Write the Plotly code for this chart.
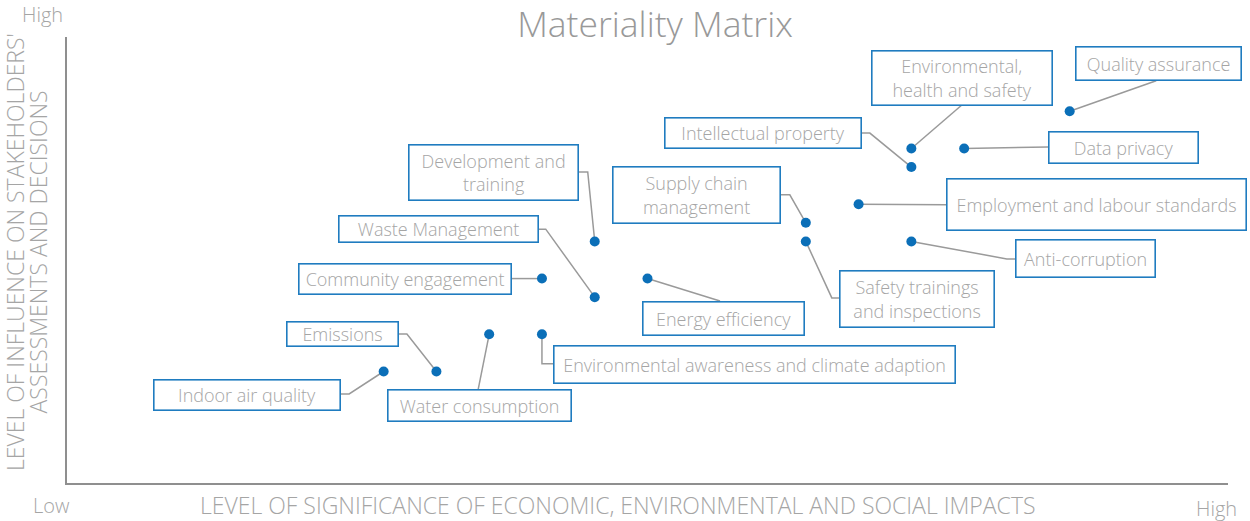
import plotly.graph_objects as go

# ---------------- data ----------------
topics = [
    "Indoor air quality", "Emissions", "Water consumption",
    "Environmental awareness and climate adaption", "Community engagement",
    "Waste Management", "Development and<br>training", "Energy efficiency",
    "Supply chain<br>management", "Safety trainings<br>and inspections",
    "Employment and labour standards", "Intellectual property",
    "Environmental,<br>health and safety", "Anti-corruption", "Data privacy",
    "Quality assurance",
]
significance = [6, 7, 8, 9, 9, 10, 10, 11, 14, 14, 15, 16, 16, 16, 17, 19]
influence = [6, 6, 8, 8, 11, 10, 13, 11, 14, 13, 15, 17, 18, 13, 18, 20]

title_text = "Materiality Matrix"
x_title = "LEVEL OF SIGNIFICANCE OF ECONOMIC, ENVIRONMENTAL AND SOCIAL IMPACTS"
y_title_lines = ["LEVEL OF INFLUENCE ON STAKEHOLDERS'", "ASSESSMENTS AND DECISIONS"]
low_label, high_label = "Low", "High"

# ---------------- label layout (pixel offsets from each point: right, down) ----------------
box_offset = [(-137, 23), (-94, -37.5), (-10, 71), (213, 30), (-136.5, 0), (-156, -68),
              (-101, -68.5), (75.5, 39.5), (-109, -27.5), (111.5, 58), (237.5, 0.5),
              (-148, -34.5), (51, -71), (174.5, 17.5), (159, -1.5), (89, -47.5)]
box_size = [(187, 31), (112, 25), (184, 32), (402, 38), (213, 31), (200, 27),
            (170, 56), (162, 34), (168, 57), (155, 57), (300, 52),
            (197, 31), (181, 55), (140, 38), (150, 32), (166, 34)]
leaders = [
    [(-43.5, 22.5), (-34.5, 22.5), (0, 0)],
    [(-38.5, -37.5), (-29.5, -37.5), (0, 0)],
    [(-11, 55), (0, 0)],
    [(12, 29.5), (0, 29.5), (0, 0)],
    [(-30, 0), (0, 0)],
    [(-56, -68), (-49, -68), (0, 0)],
    [(-16, -69.5), (-7, -69.5), (0, 0)],
    [(72.5, 22.5), (0, 0)],
    [(-25, -28), (-16, -28), (0, 0)],
    [(34, 56.5), (26, 56.5), (0, 0)],
    [(87.5, 0.5), (0, 0)],
    [(-49.5, -34), (-41.5, -34), (0, 0)],
    [(50.5, -43.5), (0, 0)],
    [(104.5, 17.5), (95.5, 17.5), (0, 0)],
    [(84, -1.5), (0, 0)],
    [(86.5, -30.5), (0, 0)],
]

FONT = "Open Sans"
TEXT_GRAY = "#a5a5a5"
BLUE_BORDER = "#1f7cc0"
BLUE_DOT = "#0b6fb8"
LINE_GRAY = "#9a9a9a"

fig = go.Figure()
fig.add_trace(go.Scatter(
    x=significance, y=influence, mode="markers",
    marker=dict(size=10, color=BLUE_DOT),
    hoverinfo="skip", showlegend=False, cliponaxis=False,
))

shapes = []
annotations = []
for i, t in enumerate(topics):
    pts = leaders[i]
    path = "M " + " L ".join(f"{dx},{-dy}" for dx, dy in pts)
    shapes.append(dict(
        type="path", xref="x", yref="y", xsizemode="pixel", ysizemode="pixel",
        xanchor=significance[i], yanchor=influence[i], path=path,
        line=dict(color=LINE_GRAY, width=1.5), layer="below",
    ))
    dx, dy = box_offset[i]
    w, h = box_size[i]
    annotations.append(dict(
        x=significance[i], y=influence[i], xref="x", yref="y",
        xshift=dx, yshift=-dy, xanchor="center", yanchor="middle",
        text=t, showarrow=False, width=w - 2, height=h - 2,
        align="center", valign="middle",
        bordercolor=BLUE_BORDER, borderwidth=1.6, borderpad=0, bgcolor="white",
        font=dict(family=FONT, size=18, color=TEXT_GRAY, weight=300),
    ))

# axis end labels and titles
corner_font = dict(family=FONT, size=20, color=TEXT_GRAY, weight=300)
title_font = dict(family=FONT, size=23, color=TEXT_GRAY, weight=300)
annotations += [
    dict(x=0, y=1, xref="paper", yref="paper", xshift=-24.5, yshift=23, text=high_label,
         showarrow=False, xanchor="center", yanchor="middle", font=corner_font),
    dict(x=0, y=0, xref="paper", yref="paper", xshift=-16, yshift=-22, text=low_label,
         showarrow=False, xanchor="center", yanchor="middle", font=corner_font),
    dict(x=1, y=0, xref="paper", yref="paper", xshift=-12, yshift=-25.5, text=high_label,
         showarrow=False, xanchor="center", yanchor="middle", font=corner_font),
    dict(x=0.4746, y=0, xref="paper", yref="paper", yshift=-22, text=x_title,
         showarrow=False, xanchor="center", yanchor="middle", font=title_font),
    dict(x=0, y=0.518, xref="paper", yref="paper", xshift=-52, text=y_title_lines[0],
         showarrow=False, xanchor="center", yanchor="middle", textangle=-90, font=title_font),
    dict(x=0, y=0.518, xref="paper", yref="paper", xshift=-29.5, text=y_title_lines[1],
         showarrow=False, xanchor="center", yanchor="middle", textangle=-90, font=title_font),
]

fig.update_layout(
    width=1250, height=521,
    margin=dict(l=67, r=22, t=37, b=38),
    paper_bgcolor="white", plot_bgcolor="white",
    title=dict(text=title_text, x=0.524, xref="container", xanchor="center",
               y=0.952, yref="container", yanchor="middle",
               font=dict(family=FONT, size=35.5, color="#999999", weight=300)),
    xaxis=dict(range=[0, 22], showgrid=False, zeroline=False, showticklabels=False,
               ticks="", showline=True, linecolor="#8f8f8f", linewidth=2, fixedrange=True),
    yaxis=dict(range=[0, 24], showgrid=False, zeroline=False, showticklabels=False,
               ticks="", showline=True, linecolor="#8f8f8f", linewidth=2, fixedrange=True),
    shapes=shapes, annotations=annotations, showlegend=False,
)

fig.write_html("out.html", config={"displayModeBar": False},
               post_script="document.body.style.margin='0';")
